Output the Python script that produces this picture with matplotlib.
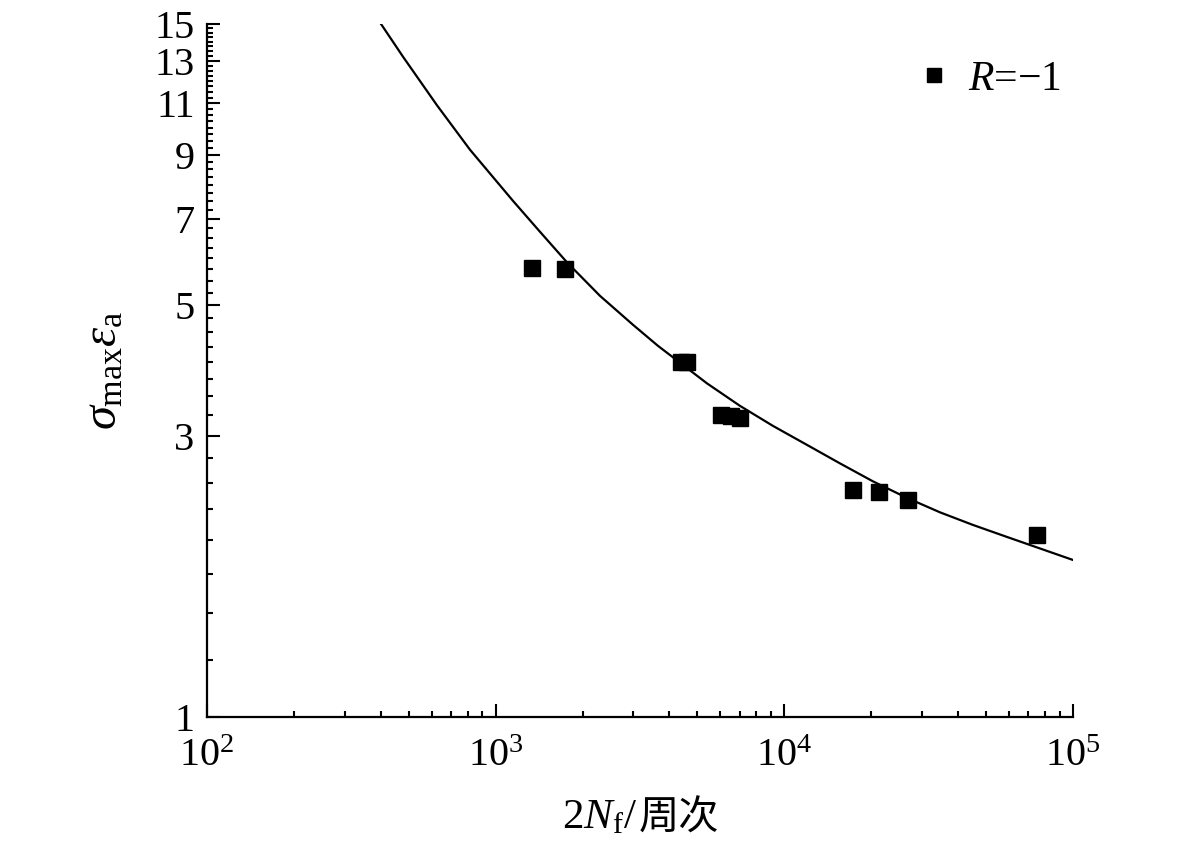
import matplotlib
matplotlib.use("Agg")
import matplotlib.pyplot as plt
from matplotlib.ticker import FixedLocator, LogLocator, NullFormatter, FixedFormatter

# ---- data ----
cycles = [1339, 1739, 4369, 4618, 6058, 6535, 7048, 17330, 21330, 26890, 74870]
swt = [5.779, 5.756, 4.011, 4.011, 3.253, 3.237, 3.222, 2.429, 2.413, 2.335, 2.037]

fit_cycles = [400, 477, 626, 815, 1148, 1424, 1766, 2298, 2991, 3651, 4116, 5396,
              7021, 9134, 11980, 15590, 20290, 26610, 34620, 45040, 59060, 76860, 100000]
fit_swt = [15.02, 13.21, 10.92, 9.176, 7.516, 6.660, 5.911, 5.185, 4.630, 4.264, 4.077,
           3.683, 3.373, 3.119, 2.896, 2.694, 2.511, 2.354, 2.225, 2.118, 2.021, 1.932, 1.847]

y_major = [1, 3, 5, 7, 9, 11, 13, 15]
y_minor = [1.25, 1.5, 1.75, 2, 2.25, 2.5, 2.75, 3.25, 3.5, 3.75, 4, 4.25, 4.5, 4.75,
           5.25, 5.5, 5.75, 6, 6.25, 6.5, 6.75, 7.25, 7.5, 7.75, 8, 8.25, 8.5, 8.75,
           9.25, 9.5, 9.75, 10, 10.25, 10.5, 10.75, 11.25, 11.5, 11.75, 12, 12.25, 12.5,
           12.75, 13.25, 13.5, 13.75, 14, 14.25, 14.5, 14.75]
x_major = [1e2, 1e3, 1e4, 1e5]
x_labels = [r"$10^2$", r"$10^3$", r"$10^4$", r"$10^5$"]
legend_label = r"$R$=$-$1"
xlabel_latin = r"2$N_\mathrm{f}$/"
xlabel_cjk = "周次"
ylabel = r"$\sigma_\mathrm{max}\varepsilon_\mathrm{a}$"

plt.rcParams['font.family'] = ['Liberation Serif', 'Noto Sans CJK SC']
plt.rcParams['mathtext.fontset'] = 'custom'
plt.rcParams['mathtext.rm'] = 'Liberation Serif'
plt.rcParams['mathtext.it'] = 'Liberation Serif:italic'
plt.rcParams['mathtext.bf'] = 'Liberation Serif:bold'

W, H = 1181, 855
fig = plt.figure(figsize=(W / 100, H / 100), dpi=100)
ax = fig.add_axes([207 / W, 138 / H, 866 / W, 693 / H])

ax.plot(fit_cycles, fit_swt, color='black', lw=1.6, zorder=2)
ax.plot(cycles, swt, linestyle='none', marker='s', markersize=12, color='black',
        label=legend_label, zorder=3)

ax.set_xscale('log')
ax.set_yscale('log')
ax.set_xlim(1e2, 1e5)
ax.set_ylim(1, 15)

ax.yaxis.set_major_locator(FixedLocator(y_major))
ax.yaxis.set_major_formatter(FixedFormatter([str(v) for v in y_major]))
ax.yaxis.set_minor_locator(FixedLocator(y_minor))
ax.yaxis.set_minor_formatter(NullFormatter())

ax.xaxis.set_major_locator(FixedLocator(x_major))
ax.xaxis.set_major_formatter(FixedFormatter(x_labels))
ax.xaxis.set_minor_locator(LogLocator(base=10, subs=range(2, 10)))
ax.xaxis.set_minor_formatter(NullFormatter())

for s in ['top', 'right']:
    ax.spines[s].set_visible(False)
for s in ['left', 'bottom']:
    ax.spines[s].set_linewidth(1.6)

ax.tick_params(which='major', direction='in', length=9.5, width=1.5, labelsize=29)
ax.tick_params(which='minor', direction='in', length=4, width=1.5)
ax.tick_params(axis='x', which='major', pad=15)
ax.tick_params(axis='y', which='major', pad=9)

ax.set_ylabel(ylabel, fontsize=35, labelpad=20)

# x label: Latin/math part and CJK part side by side, centred under the axes
renderer = fig.canvas.get_renderer()
yl = 1 - 818 / H
t1 = fig.text(0, yl, xlabel_latin, fontsize=31, ha='left', va='center')
t2 = fig.text(0, yl, xlabel_cjk, fontsize=29, ha='left', va='center',
              family=['Noto Sans CJK SC'])
w1 = t1.get_window_extent(renderer).width
w2 = t2.get_window_extent(renderer).width
cx = (207 + 1073) / 2
x0 = cx - (w1 + w2) / 2
t1.set_x(x0 / W)
t2.set_x((x0 + w1 + 1) / W)

ax.legend(loc='upper right', frameon=False, fontsize=30, handletextpad=0.3,
          borderaxespad=0.0, bbox_to_anchor=(1.005, 0.972), handlelength=1.0,
          markerscale=0.85)

fig.savefig("out.png", dpi=100)
